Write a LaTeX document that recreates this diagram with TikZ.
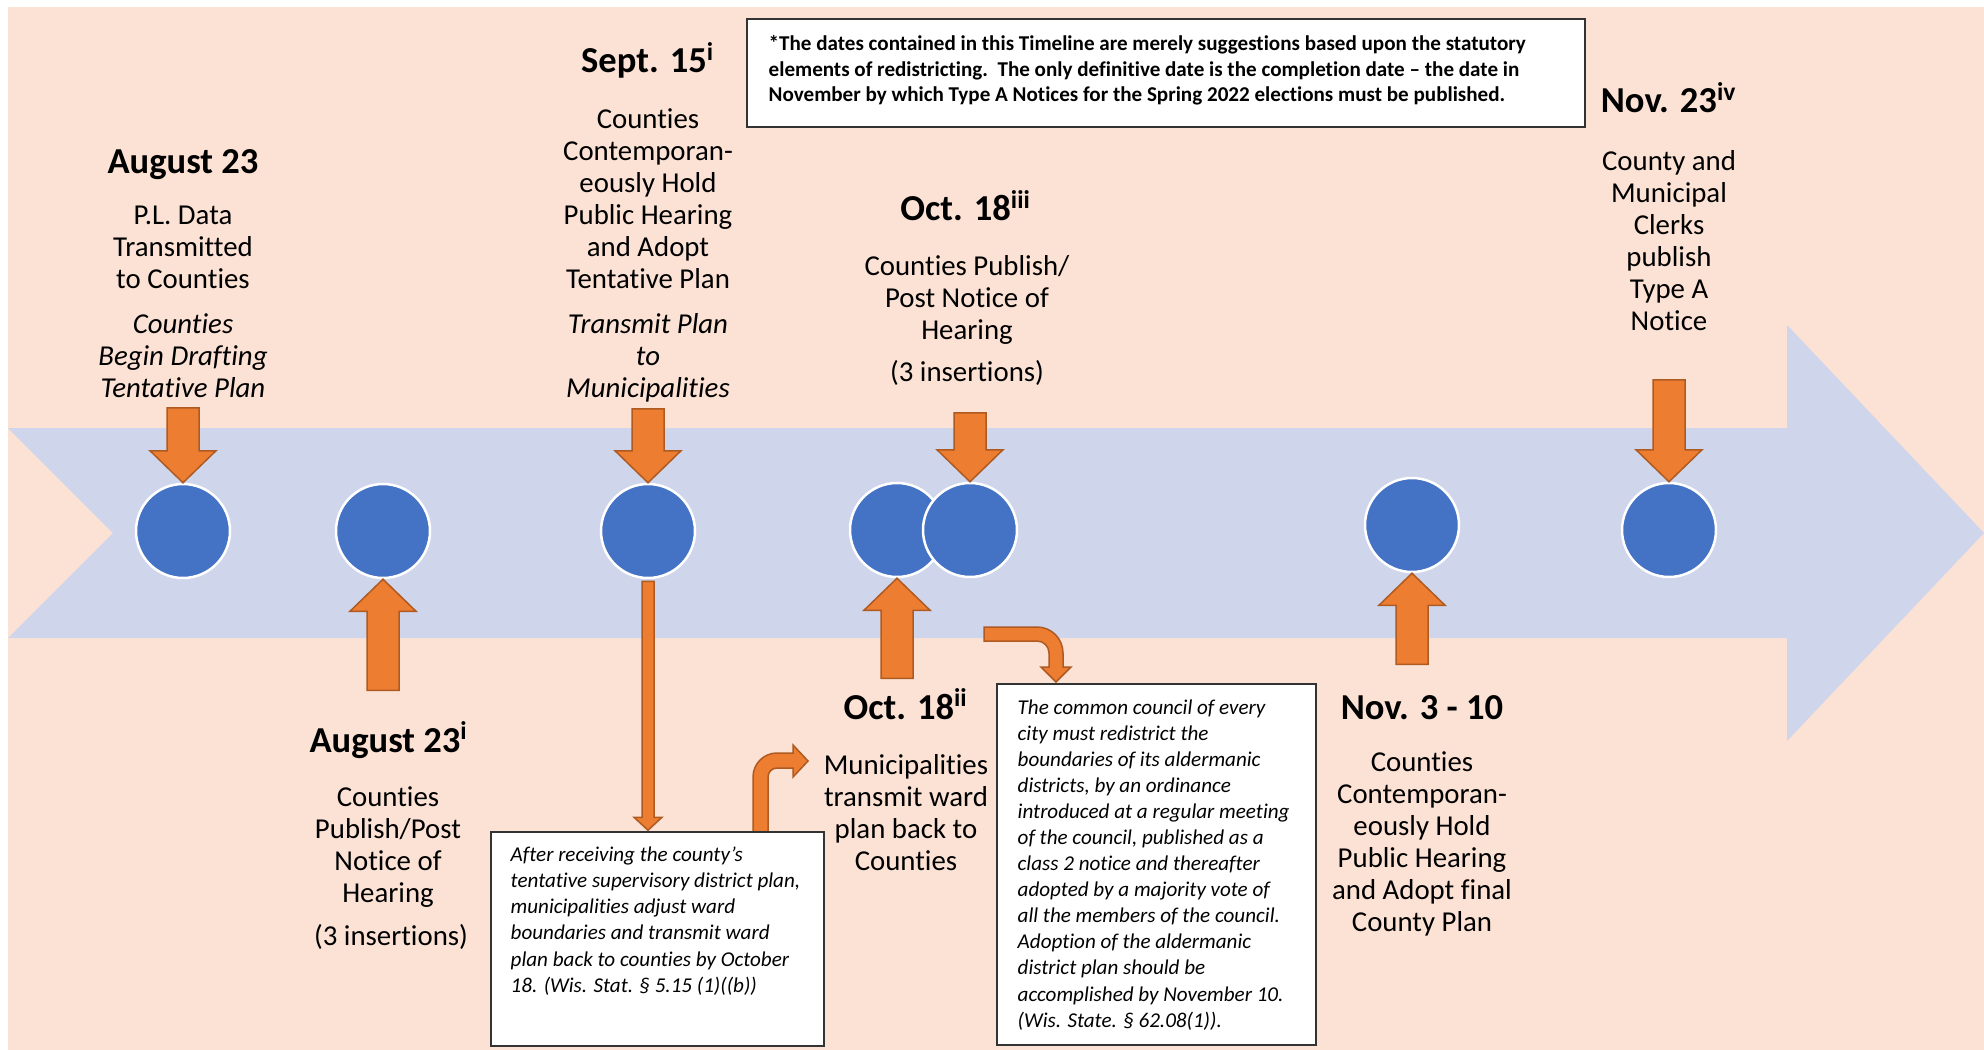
\documentclass[tikz,border=0pt]{standalone}
\usepackage{fontspec}
\setmainfont{Carlito}[Ligatures=NoCommon]
\definecolor{peach}{HTML}{FBE2D5}
\definecolor{bandblue}{HTML}{CFD5EA}
\definecolor{dotblue}{HTML}{4472C4}
\definecolor{arroworange}{HTML}{ED7D31}
\definecolor{arrowedge}{HTML}{AE5A21}
\def\pushdown(#1)(#2){\draw[blockarrow, shift={(#1.north)}] (-16,-#2) -- (16,-#2) -- (16,-32) -- (33,-32) -- (0,0) -- (-33,-32) -- (-16,-32) -- cycle;}
\def\pushup(#1)(#2){\draw[blockarrow, shift={(#1.south)}] (-16,#2) -- (16,#2) -- (16,32) -- (33,32) -- (0,0) -- (-33,32) -- (-16,32) -- cycle;}

\begin{document}
\begin{tikzpicture}[x=0.1mm, y=-0.1mm,
		dot/.style={circle, fill=dotblue, draw=white, line width=0.25mm, minimum size=9.4mm, inner sep=0pt},
		blockarrow/.style={fill=arroworange, draw=arrowedge, line width=0.15mm},
		datehead/.style={font=\fontsize{10.4}{12}\selectfont\bfseries, anchor=base, inner sep=0pt},
		eventtext/.style={font=\fontsize{8.2}{9.1}\selectfont, align=center, anchor=base, inner sep=0pt},
		eventnote/.style={eventtext, font=\fontsize{8.2}{9.1}\selectfont\itshape},
		notebox/.style={draw=black!80, fill=white, line width=0.15mm},
		boxtext/.style={font=\fontsize{6}{7.4}\selectfont\itshape, align=left, anchor=base west, inner sep=0pt}]
		% text nodes sit on the baseline of their last line
		%%%%% BACKGROUND %%%%%
		\useasboundingbox (0,0) rectangle (1984,1050);
		\fill[white] (0,0) rectangle (1984,1050);
		\fill[peach] (8,7) rectangle (1984,1050);
		\fill[bandblue] (8,428) -- (1787,428) -- (1787,325) -- (1984,533) -- (1787,741) -- (1787,638) -- (8,638) -- (113,533) -- cycle;
		
		%%%%% DATES %%%%%
		\node[dot] (c1) at (183,531) {};
		\node[dot] (c2) at (383,531) {};
		\node[dot] (c3) at (648,531) {};
		\node[dot] (c4) at (897,530) {};
		\node[dot] (c5) at (970,530) {};
		\node[dot] (c6) at (1412,525) {};
		\node[dot] (c7) at (1669,530) {};
		
		\pushdown(c1)(75)
		\pushdown(c3)(74)
		\pushdown(c5)(69)
		\pushdown(c7)(102)
		\pushup(c2)(111)
		\pushup(c4)(100)
		\pushup(c6)(91)
		
		% thin arrow down to the ward box
		\draw[blockarrow, shift={(c3.south)}] (-6,2) -- (6,2) -- (6,238) -- (14,238) -- (0,251) -- (-14,238) -- (-6,238) -- cycle;
		% bent arrows
		\draw[blockarrow] (753,832) -- (753,777) arc[start angle=180, end angle=270, radius=24] -- (793,753) -- (793,745) -- (808,761) -- (793,777) -- (793,768) -- (777,768) arc[start angle=270, end angle=180, radius=9] -- (768,832) -- cycle;
		\draw[blockarrow] (984,627) -- (1037,627) arc[start angle=270, end angle=360, radius=26] -- (1063,667) -- (1071,667) -- (1056,682) -- (1041,667) -- (1049,667) -- (1049,653) arc[start angle=0, end angle=-90, radius=12] -- (984,641) -- cycle;
		
		%%%%% TEXT ABOVE %%%%%
		\node[datehead] (aug23) at (183,173) {August 23};
		\node[eventtext] (aug23text) at (183,288) {P.L. Data\\Transmitted\\to Counties};
		\node[eventnote] (aug23note) at (183,397) {Counties\\Begin Drafting\\Tentative Plan};
		
		\node[datehead] (sep15) at (648,73) {Sept. 15\textsuperscript{i}};
		\node[eventtext] (sep15text) at (648,288) {Counties\\Contemporan-\\eously Hold\\Public Hearing\\and Adopt\\Tentative Plan};
		\node[eventnote] (sep15note) at (648,397) {Transmit Plan\\to\\Municipalities};
		
		\node[datehead] (oct18c) at (966,221) {Oct. 18\textsuperscript{iii}};
		\node[eventtext] (oct18ctext) at (967,339) {Counties Publish/\\Post Notice of\\Hearing};
		\node[eventtext] (oct18cins) at (967,381) {(3 insertions)};
		
		\node[datehead] (nov23) at (1669,113) {Nov. 23\textsuperscript{iv}};
		\node[eventtext] (nov23text) at (1669,330) {County and\\Municipal\\Clerks\\publish\\Type A\\Notice};
		
		%%%%% TEXT BELOW %%%%%
		\node[datehead] (aug23b) at (389,752) {August 23\textsuperscript{i}};
		\node[eventtext] (aug23btext) at (388,902) {Counties\\Publish/Post\\Notice of\\Hearing};
		\node[eventtext] (aug23bins) at (391,945) {(3 insertions)};
		
		\node[datehead] (oct18b) at (906,719) {Oct. 18\textsuperscript{ii}};
		\node[eventtext] (oct18btext) at (906,870) {Municipalities\\transmit ward\\plan back to\\Counties};
		
		\node[datehead] (nov3) at (1422,719) {Nov. 3 - 10};
		\node[eventtext] (nov3text) at (1422,931) {Counties\\Contemporan-\\eously Hold\\Public Hearing\\and Adopt final\\County Plan};
		
		%%%%% NOTES %%%%%
		\draw[notebox] (747,19) rectangle (1585,127);
		\node[boxtext, font=\fontsize{6}{7.3}\selectfont\bfseries] (disclaimer) at (768,102) {*The dates contained in this Timeline are merely suggestions based upon the statutory\\elements of redistricting.\ \ The only definitive date is the completion date – the date in\\November by which Type A Notices for the Spring 2022 elections must be published.};
		
		\draw[notebox] (491,832) rectangle (824,1046);
		\node[boxtext] (wardnote) at (510,992) {After receiving the county’s\\tentative supervisory district plan,\\municipalities adjust ward\\boundaries and transmit ward\\plan back to counties by October\\18. (Wis. Stat. § 5.15 (1)((b))};
		
		\draw[notebox] (997,684) rectangle (1316,1045);
		\node[boxtext] (councilnote) at (1017,1027) {The common council of every\\city must redistrict the\\boundaries of its aldermanic\\districts, by an ordinance\\introduced at a regular meeting\\of the council, published as a\\class 2 notice and thereafter\\adopted by a majority vote of\\all the members of the council.\\Adoption of the aldermanic\\district plan should be\\accomplished by November 10.\\(Wis. State. § 62.08(1)).};
		
	\end{tikzpicture}
\end{document}
